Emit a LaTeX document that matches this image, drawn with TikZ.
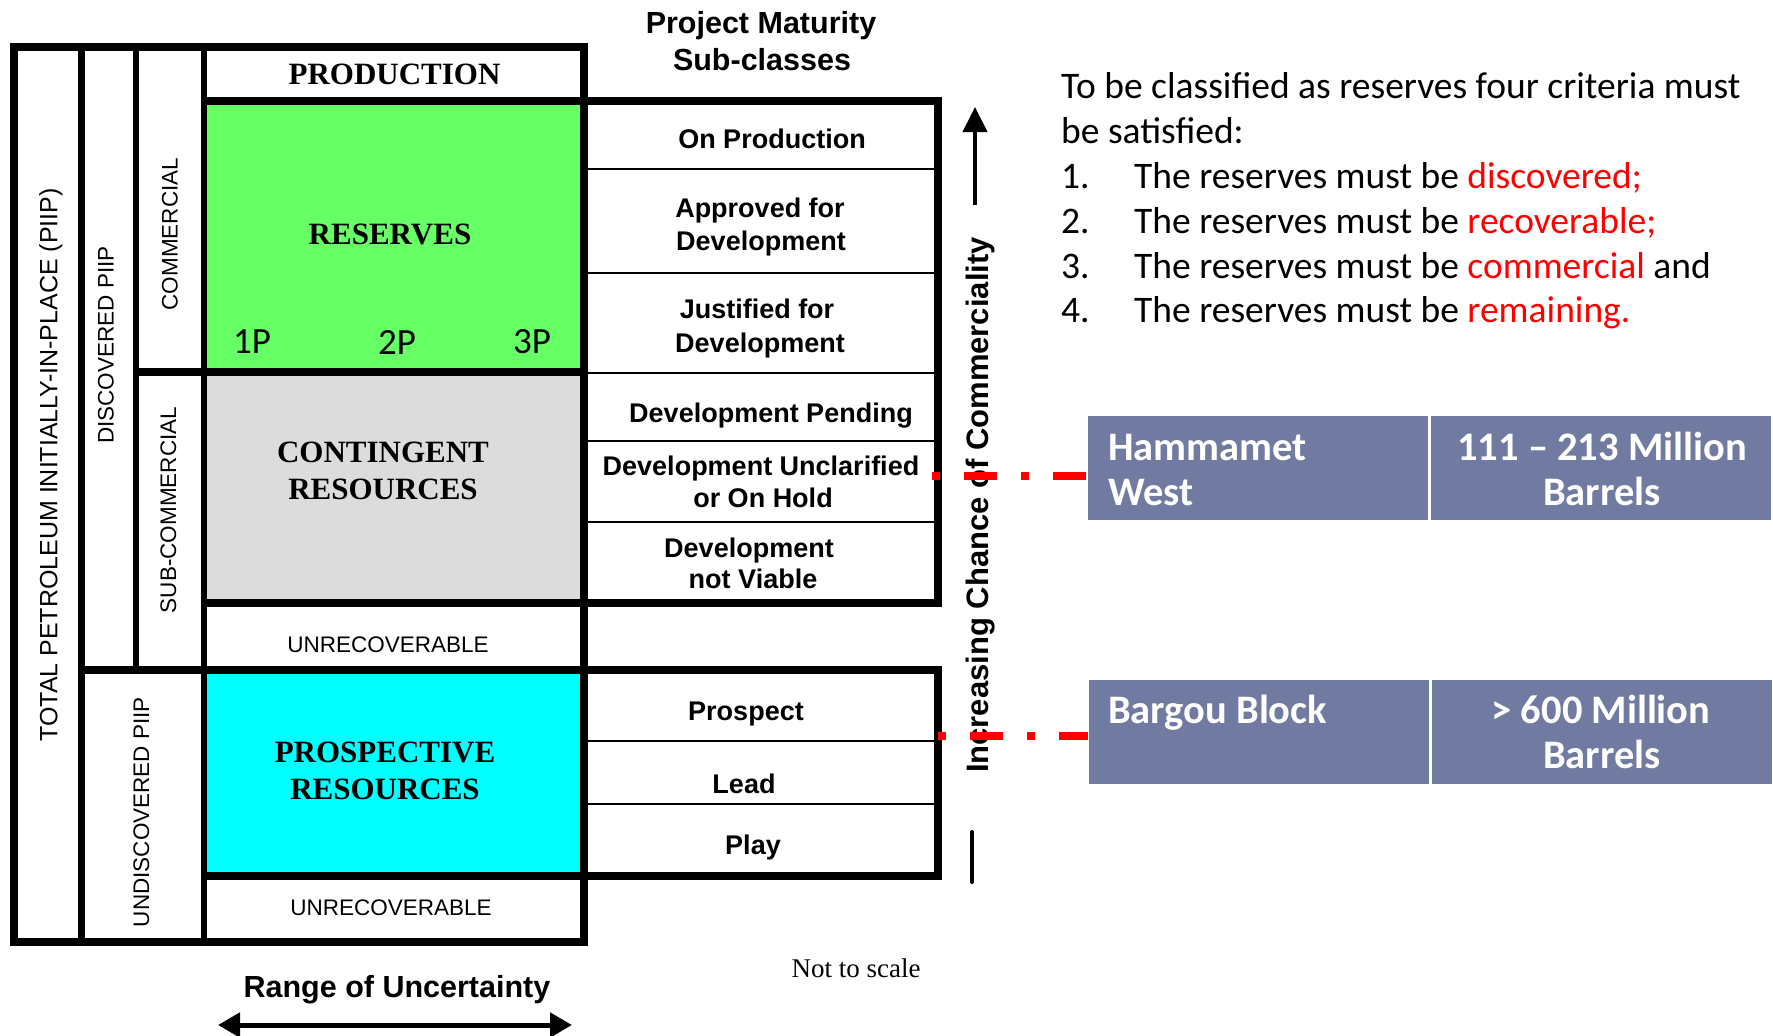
\documentclass[tikz,border=0pt]{standalone}
\usepackage{fontspec}
\setmainfont{Liberation Serif}
\newfontfamily\arialf{Liberation Sans}
\newfontfamily\gillf{Carlito}
\usetikzlibrary{arrows.meta}
\definecolor{resgreen}{RGB}{102,255,102}
\definecolor{congrey}{RGB}{220,220,220}
\definecolor{procyan}{RGB}{0,255,255}
\definecolor{slate}{RGB}{113,123,161}
\definecolor{critred}{RGB}{255,0,0}
\begin{document}
\begin{tikzpicture}[x=1pt,y=-1pt,
  heavyrule/.style={line width=7.5pt},
  colrule/.style={line width=6.5pt},
  rowline/.style={line width=1.8pt},
  classname/.style={font=\bfseries\fontsize{31}{37}\selectfont, align=center, inner sep=0},
  unrec/.style={font=\arialf\fontsize{22.5}{27}\selectfont, inner sep=0},
  collabel/.style={font=\arialf\fontsize{22.5}{27}\selectfont, inner sep=0, rotate=90},
  subclass/.style={font=\arialf\bfseries\fontsize{27}{33}\selectfont, inner sep=0, anchor=base},
  heading/.style={font=\arialf\bfseries\fontsize{30.5}{36}\selectfont, inner sep=0, anchor=base},
  pcase/.style={font=\gillf\fontsize{37}{44}\selectfont, inner sep=0},
  criterion/.style={font=\gillf\fontsize{37.5}{45}\selectfont, inner sep=0, anchor=base west},
  fieldbox/.style={fill=slate, draw=none, minimum width=340pt, minimum height=104pt, inner sep=0},
  boxtext/.style={font=\gillf\bfseries\fontsize{40.5}{45}\selectfont, text=white, inner sep=0},
  redlink/.style={draw=critred, line width=8pt, dash pattern=on 8pt off 24pt on 33pt off 24pt},
  arrowline/.style={line width=4pt}
]
\useasboundingbox (0,0) rectangle (1773,1036);

% class fills
\fill[resgreen] (204,101) rectangle (584,372);
\fill[congrey]  (204,372) rectangle (584,603);
\fill[procyan]  (204,670) rectangle (584,876);

% thin rows of the maturity sub-class tables
\foreach \yy in {169,273,373,441,522,741,804}
  \draw[rowline] (584,\yy) -- (938,\yy);

% heavy rules of the resource classification frame
\draw[heavyrule] (14,47) rectangle (584,942);
\draw[colrule] (81.5,47) -- (81.5,942);
\draw[colrule] (136,47) -- (136,670);
\draw[colrule] (204,47) -- (204,942);
\draw[heavyrule] (204,101) -- (584,101);
\draw[heavyrule] (136,372) -- (584,372);
\draw[heavyrule] (204,603) -- (584,603);
\draw[heavyrule] (81.5,670) -- (584,670);
\draw[heavyrule] (204,876) -- (584,876);
\draw[heavyrule] (584,101) rectangle (938,603);
\draw[heavyrule] (584,670) rectangle (938,876);

% vertical column labels
\node[collabel, font=\arialf\fontsize{25}{30}\selectfont] (piip) at (51,465) {TOTAL PETROLEUM INITIALLY-IN-PLACE (PIIP)};
\node[collabel] (disc) at (106,345) {DISCOVERED PIIP};
\node[collabel] (comm) at (170,234) {COMMERCIAL};
\node[collabel] (subcomm) at (168.5,510) {SUB-COMMERCIAL};
\node[collabel] (undisc) at (141.5,812) {UNDISCOVERED PIIP};

% class names
\node[classname] (prod) at (394.5,74) {PRODUCTION};
\node[classname] (res) at (390,234) {RESERVES};
\node[classname] (cont) at (383,471) {CONTINGENT\\RESOURCES};
\node[classname] (pros) at (385,771) {PROSPECTIVE\\RESOURCES};
\node[unrec] (unrecA) at (388,645) {UNRECOVERABLE};
\node[unrec] (unrecB) at (391,908) {UNRECOVERABLE};
\node[pcase] (p1) at (252,342) {1P};
\node[pcase] (p2) at (397,342) {2P};
\node[pcase] (p3) at (532,342) {3P};

% project maturity sub-classes
\node[heading] (pmA) at (761,33) {Project Maturity};
\node[heading] (pmB) at (762,70) {Sub-classes};
\node[subclass] (onprod) at (772,148) {On Production};
\node[subclass] (apprA) at (760,217) {Approved for};
\node[subclass] (apprB) at (761,250) {Development};
\node[subclass] (justA) at (757,318) {Justified for};
\node[subclass] (justB) at (760,352) {Development};
\node[subclass] (pend) at (771,422) {Development Pending};
\node[subclass] (unclA) at (761,475) {Development Unclarified};
\node[subclass] (unclB) at (763,507) {or On Hold};
\node[subclass] (nvA) at (749,557) {Development};
\node[subclass] (nvB) at (753,588) {not Viable};
\node[subclass] (prospect) at (746,720) {Prospect};
\node[subclass] (lead) at (744,793) {Lead};
\node[subclass] (play) at (753,854) {Play};

% axes
\node[font=\arialf\bfseries\fontsize{31}{36}\selectfont, inner sep=0, rotate=90] (chance) at (981,505) {Increasing Chance of Commerciality};
\coordinate (upfoot) at (975,205);
\coordinate (uptip) at (975,107);
\draw[arrowline, -{Triangle[length=25pt,width=24pt]}] (upfoot) -- (uptip);
\coordinate (lowtop) at (972,832);
\coordinate (lowbot) at (972,882);
\draw[arrowline, line cap=round] (lowtop) -- (lowbot);

\node[heading] (range) at (397,997) {Range of Uncertainty};
\coordinate (rangeL) at (218,1025);
\coordinate (rangeR) at (572,1025);
\draw[line width=5pt, {Triangle[length=22pt,width=24pt]}-{Triangle[length=22pt,width=24pt]}] (rangeL) -- (rangeR);
\node[font=\fontsize{27}{32}\selectfont, inner sep=0, anchor=base] (scale) at (856,977) {Not to scale};

% reserves criteria
\node[criterion] (critA) at (1061,98) {To be classified as reserves four criteria must};
\node[criterion] (critB) at (1061,143) {be satisfied:};
\node[criterion] (n1) at (1061,188) {1.};
\node[criterion] (n2) at (1061,233) {2.};
\node[criterion] (n3) at (1061,278) {3.};
\node[criterion] (n4) at (1061,322) {4.};
\node[criterion] (c1) at (1134,188) {The reserves must be \textcolor{critred}{discovered;}};
\node[criterion] (c2) at (1134,233) {The reserves must be \textcolor{critred}{recoverable;}};
\node[criterion] (c3) at (1134,278) {The reserves must be \textcolor{critred}{commercial} and};
\node[criterion] (c4) at (1134,322) {The reserves must be \textcolor{critred}{remaining.}};

% field boxes
\node[fieldbox] (hw) at (1258,468) {};
\node[fieldbox] (hwvol) at (1601,468) {};
\node[fieldbox] (bb) at (1258.5,732) {};
\node[fieldbox] (bbvol) at (1601.5,732) {};
\node[boxtext, anchor=base west] (hwA) at (1108,460) {Hammamet};
\node[boxtext, anchor=base west] (hwB) at (1108,505) {West};
\node[boxtext, anchor=base] (hwvA) at (1602,460) {111 – 213 Million};
\node[boxtext, anchor=base] (hwvB) at (1602,505) {Barrels};
\node[boxtext, anchor=base west] (bbA) at (1108,723) {Bargou Block};
\node[boxtext, anchor=base] (bbvA) at (1601,723) {> 600 Million};
\node[boxtext, anchor=base] (bbvB) at (1602,768) {Barrels};

% links from the maturity scale to the fields
\coordinate (hwlink) at (932,476);
\coordinate (bblink) at (938,736);
\draw[redlink] (hwlink) -- (hwlink -| hw.west);
\draw[redlink] (bblink) -- (bblink -| bb.west);
\end{tikzpicture}
\end{document}
